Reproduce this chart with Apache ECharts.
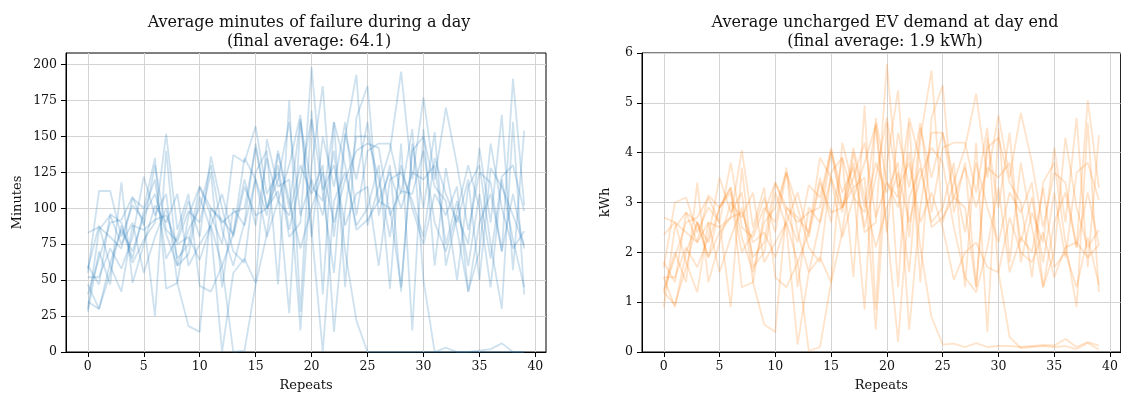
<!DOCTYPE html>
<html>
<head>
<meta charset="utf-8">
<script src="https://cdn.jsdelivr.net/npm/echarts@6/dist/echarts.min.js"></script>
<style>
html,body{margin:0;padding:0;background:#fff;}
#chart{width:1121px;height:397px;}
</style>
</head>
<body>
<div id="chart"></div>
<script>
// ---- data ----
const repeats = Array.from({length: 40}, (_, i) => i); // x = 0..39
const xTicks = [0, 5, 10, 15, 20, 25, 30, 35, 40];
const minutesTicks = [0, 25, 50, 75, 100, 125, 150, 175, 200];
const kwhTicks = [0, 1, 2, 3, 4, 5, 6];

const titleLeft = 'Average minutes of failure during a day\n(final average: 64.1)';
const titleRight = 'Average uncharged EV demand at day end\n(final average: 1.9 kWh)';

// failure minutes, one array per run
const min0 = [47,30,62,85,70,95,110,82,60,85, 100,130,85,60,90,145,100,120,160,95, 120,95,140,70,22, 0,0,0,0,0, 0,0,0,0,0, 0,0,0,0,0];
const min1 = [35,30,55,88,62,78,90,152,85,110, 46,42,60,82,120,88,135,105,130,165, 80,150,115,160,95, 140,145,145,110,155, 50,0,3,0,0, 1,2,6,0,0];
const min2 = [83,87,80,72,107,100,135,44,48,95, 115,95,75,137,132,157,110,125,80,90, 198,110,55,150,193, 88,115,140,195,120, 177,120,170,130,85, 125,118,70,190,102];
const min3 = [60,47,96,90,65,98,120,65,80,105, 80,136,100,70,62,125,140,47,175,28, 168,40,160,45,163, 185,95,130,42,145, 100,153,60,95,75, 142,90,165,57,154];
const min4 = [55,112,112,80,102,92,25,140,60,68, 108,85,0,55,65,48,148,115,120,15, 130,185,80,152,120, 160,105,100,45,140, 150,115,105,50,115, 130,75,30,160,40];
const min5 = [28,70,47,118,48,75,102,90,110,60, 75,88,60,0,1,47,82,138,100,162, 85,0,105,125,88, 100,130,44,145,15, 155,60,128,85,42, 70,145,100,72,84];
const min6 = [52,52,72,58,80,122,95,110,48,18, 14,100,92,82,135,120,80,105,95,130, 110,130,14,100,150, 150,120,80,130,100, 75,110,95,115,42, 90,110,70,110,72];
const min7 = [30,85,95,75,90,55,80,100,65,75, 115,100,90,97,100,142,100,112,27,160, 115,105,160,130,85, 92,105,125,100,125, 120,130,75,105,60, 110,65,122,130,98];
const min8 = [40,65,90,92,108,88,130,85,77,98, 90,125,45,100,88,120,95,140,105,72, 100,125,90,120,140, 145,142,95,112,110, 140,90,70,98,130, 100,45,120,78,45];
const min9 = [58,88,60,42,88,85,92,95,75,80, 64,88,110,80,115,95,100,130,85,120, 162,113,130,88,110, 115,60,120,125,105, 80,135,110,90,120, 50,128,115,95,74];

// uncharged EV demand (kWh), one array per run
const kwh0 = [1.5,0.9,2.0,2.6,2.2,2.9,3.3,2.3,1.6,2.6, 2.9,3.6,2.4,1.6,2.6,4.0,2.9,3.5,4.2,2.7, 3.4,2.9,4.0,2.1,0.7, 0.15,0.17,0.1,0.18,0.1, 0.12,0.12,0.1,0.12,0.14, 0.13,0.26,0.1,0.2,0.13];
const kwh1 = [1.2,0.95,1.7,2.6,1.9,2.4,2.7,4.05,2.5,3.3, 1.5,1.3,1.8,2.4,3.5,2.6,3.9,3.1,3.8,4.55, 2.4,4.4,3.3,4.6,2.8, 4.1,4.2,4.2,3.2,4.5, 1.6,0.3,0.08,0.1,0.12, 0.1,0.12,0.06,0.18,0.05];
const kwh2 = [2.35,2.6,2.4,2.2,3.15,2.9,3.3,1.3,1.4,2.8, 3.4,2.8,2.2,3.35,3.1,4.05,3.2,3.7,2.4,2.6, 5.78,3.2,1.6,4.3,5.65, 2.6,3.4,4.1,5.18,3.5, 4.75,3.5,4.8,3.8,2.5, 3.6,3.4,2.1,5.05,3.3];
const kwh3 = [1.8,1.4,2.8,2.6,1.9,2.9,3.2,2.0,2.4,3.1, 2.4,3.6,2.9,2.1,1.8,3.6,3.9,1.5,4.95,0.85, 4.6,1.3,4.6,1.4,4.7, 5.35,2.8,3.8,1.3,4.3, 2.9,4.4,1.8,2.8,2.2, 4.1,2.6,4.7,1.7,4.35];
const kwh4 = [1.7,3.0,3.1,2.4,2.9,2.6,0.9,3.7,1.7,2.0, 3.2,2.5,0.15,1.6,1.9,1.4,4.2,3.3,3.5,0.45, 3.8,5.25,2.3,4.5,3.5, 4.4,3.1,2.9,1.3,4.1, 4.3,3.4,3.0,1.5,3.4, 3.8,2.2,0.9,4.6,1.2];
const kwh5 = [1.25,2.0,1.4,3.4,1.4,2.2,3.0,2.7,3.2,1.8, 2.2,2.6,1.8,0.02,0.1,1.4,2.4,4.0,2.9,4.6, 2.5,0.2,3.1,3.7,2.6, 2.9,3.8,1.3,4.2,0.4, 4.5,1.8,3.8,2.5,1.3, 2.0,4.3,2.9,2.1,2.45];
const kwh6 = [1.5,1.5,2.1,1.7,2.3,3.5,2.8,3.2,1.4,0.55, 0.4,2.9,2.7,2.4,3.9,3.5,2.3,3.1,2.8,3.8, 3.2,3.8,0.45,2.9,4.4, 4.4,3.5,2.4,3.8,2.9, 2.2,3.2,2.8,3.4,1.3, 2.6,3.2,2.1,3.2,2.15];
const kwh7 = [0.9,2.5,2.8,2.2,2.6,1.6,2.3,2.9,1.9,2.2, 3.4,2.9,2.6,2.8,2.9,4.1,2.9,3.3,0.85,4.7, 3.4,3.1,4.7,3.8,2.5, 2.7,3.1,3.7,2.9,3.7, 3.5,3.8,2.2,3.1,1.8, 3.2,1.9,3.6,3.8,3.05];
const kwh8 = [1.2,1.9,2.6,2.7,3.1,2.6,3.8,2.5,2.3,2.9, 2.6,3.7,1.3,2.9,2.6,3.5,2.8,4.1,3.1,2.1, 2.9,3.6,2.6,3.5,4.1, 3.8,2.5,1.5,1.2,2.1, 3.3,1.6,2.3,2.0,3.3, 1.7,2.0,1.3,2.3,1.35];
const kwh9 = [2.7,2.6,1.8,1.2,2.6,2.5,2.7,2.8,2.2,2.4, 1.9,2.6,3.2,2.3,3.4,2.8,2.9,3.8,2.5,3.5, 4.7,3.3,3.8,2.6,3.2, 2.5,1.45,2.0,2.2,1.7, 1.6,2.7,2.0,1.8,2.4, 1.5,2.1,2.2,1.9,2.15];

const minutesRuns = [min0,min1,min2,min3,min4,min5,min6,min7,min8,min9];
const kwhRuns = [kwh0,kwh1,kwh2,kwh3,kwh4,kwh5,kwh6,kwh7,kwh8,kwh9];

// ---- chart ----
const FONT = 'DejaVu Serif';
const TXT = '#111';
const chart = echarts.init(document.getElementById('chart'), null, {renderer: 'canvas'});

function xAxisCfg(gridIndex) {
  return {
    type: 'value', gridIndex, min: -1.95, max: 40.95,
    name: 'Repeats', nameLocation: 'middle', nameGap: 27,
    nameTextStyle: {fontFamily: FONT, fontSize: 13, color: TXT},
    axisLine: {show: true, onZero: false, lineStyle: {color: '#000', width: 1}},
    axisTick: {show: true, length: 5, customValues: xTicks, lineStyle: {color: '#000', width: 1}},
    axisLabel: {customValues: xTicks, fontFamily: FONT, fontSize: 12.5, color: TXT, margin: 8},
    splitLine: {show: true, lineStyle: {color: '#d3d3d3', width: 1}}
  };
}
function yAxisCfg(gridIndex, name, max, ticks, gap) {
  return {
    type: 'value', gridIndex, min: 0, max: max,
    name: name, nameLocation: 'middle', nameGap: gap,
    nameTextStyle: {fontFamily: FONT, fontSize: 13, color: TXT},
    axisLine: {show: true, onZero: false, lineStyle: {color: '#000', width: 1}},
    axisTick: {show: true, length: 5, customValues: ticks, lineStyle: {color: '#000', width: 1}},
    axisLabel: {customValues: ticks, fontFamily: FONT, fontSize: 12.5, color: TXT, margin: 9},
    splitLine: {show: true, lineStyle: {color: '#d3d3d3', width: 1}}
  };
}

const series = [];
minutesRuns.forEach((run) => {
  series.push({
    type: 'line', xAxisIndex: 0, yAxisIndex: 0, showSymbol: false, silent: true,
    data: run.map((v, i) => [repeats[i], v]),
    lineStyle: {color: '#1f77b4', width: 1.8, opacity: 0.22}
  });
});
kwhRuns.forEach((run) => {
  series.push({
    type: 'line', xAxisIndex: 1, yAxisIndex: 1, showSymbol: false, silent: true,
    data: run.map((v, i) => [repeats[i], v]),
    lineStyle: {color: '#ff7f0e', width: 1.8, opacity: 0.22}
  });
});

chart.setOption({
  animation: false,
  backgroundColor: '#fff',
  title: [
    {text: titleLeft, left: 304, top: 8, textAlign: 'center',
     textStyle: {fontFamily: FONT, fontSize: 16, fontWeight: 'normal', color: TXT, lineHeight: 19}},
    {text: titleRight, left: 880, top: 8, textAlign: 'center',
     textStyle: {fontFamily: FONT, fontSize: 16, fontWeight: 'normal', color: TXT, lineHeight: 19}}
  ],
  grid: [
    {left: 66, top: 53, width: 480, height: 300, show: true, borderColor: '#000', borderWidth: 1, backgroundColor: '#fff'},
    {left: 642, top: 53, width: 480, height: 300, show: true, borderColor: '#000', borderWidth: 1, backgroundColor: '#fff'}
  ],
  xAxis: [xAxisCfg(0), xAxisCfg(1)],
  yAxis: [yAxisCfg(0, 'Minutes', 208, minutesTicks, 42), yAxisCfg(1, 'kWh', 6, kwhTicks, 30)],
  series: series
});
</script>
</body>
</html>
